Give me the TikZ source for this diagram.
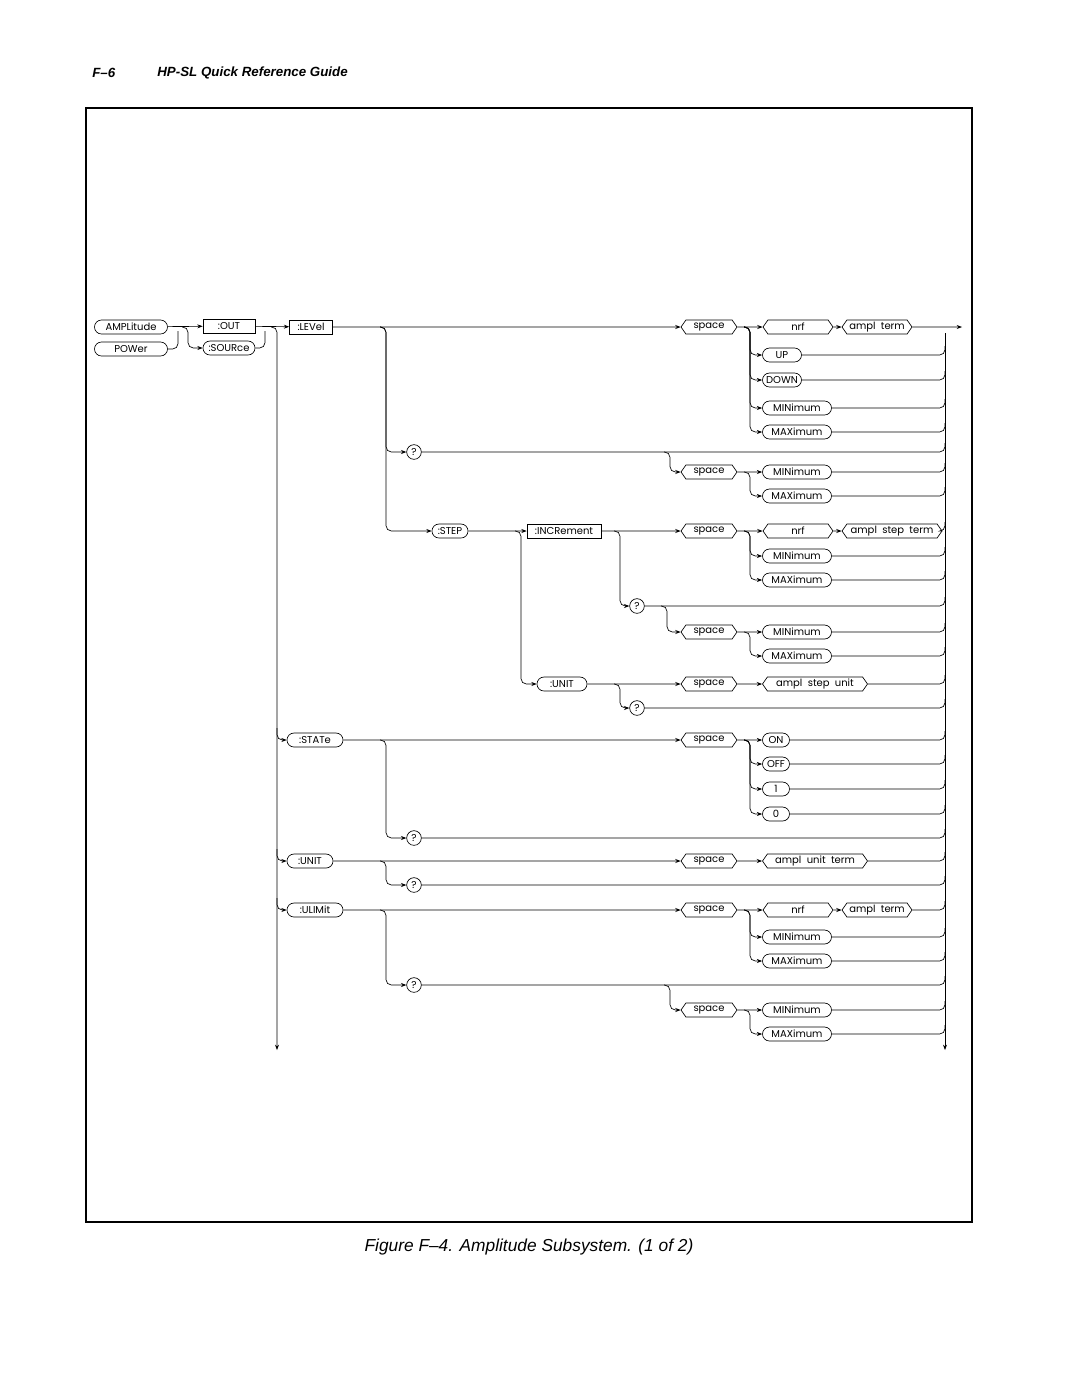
\documentclass[tikz,border=0pt]{standalone}
\usepackage{fontspec}
\setmainfont{Poppins}
\newfontfamily\hdfont{Liberation Sans}
\usetikzlibrary{arrows.meta,shapes.misc,shapes.symbols}
\begin{document}
\begin{tikzpicture}[x=0.75pt,y=-0.75pt,
  every node/.style={font=\fontsize{7.5}{8}\selectfont,inner sep=0pt,minimum height=10.5pt,draw,line width=0.5pt},
  rr/.style={rounded rectangle},
  bx/.style={rectangle},
  sg/.style={signal,signal to=west and east,signal pointer angle=110},
  qc/.style={circle,minimum size=11pt,minimum height=11pt},
  w/.style={minimum width=#1*0.75pt},
  rc/.style={rounded corners=4pt},
  ar/.style={-{Stealth[length=4pt,width=3pt]}},
  line width=0.5pt]
\useasboundingbox (0,0) rectangle (1080,1397);
\draw[line width=1.1pt] (86,108) rectangle (972,1222);
\node[draw=none,font=\hdfont\bfseries\itshape\fontsize{10}{12}\selectfont,anchor=west] (hd1) at (92,73) {F–6};
\node[draw=none,font=\hdfont\bfseries\itshape\fontsize{10}{12}\selectfont,anchor=west] (hd2) at (157,73) {HP-SL Quick Reference Guide};
\node[draw=none,font=\hdfont\itshape\fontsize{13}{15}\selectfont] (cap) at (529,1247) {Figure F–4. Amplitude Subsystem. (1 of 2)};
% nodes
\node[rr,w=73] (amp) at (131,327) {AMPLitude};
\node[rr,w=73] (pow) at (131,349) {POWer};
\node[bx,w=52] (out) at (229,326) {:OUT};
\node[rr,w=52] (src) at (229,348) {:SOURce};
\node[bx,w=43] (lev) at (311,327) {:LEVel};
\node[sg,w=56] (sp1) at (709,327) {space};
\node[sg,w=70] (nrf1) at (798,327) {nrf};
\node[sg,w=70] (at1) at (877,327) {ampl\ \ term};
\node[rr,w=39] (up) at (782,355) {UP};
\node[rr,w=39] (down) at (782,380) {DOWN};
\node[rr,w=69] (min1) at (797,408) {MINimum};
\node[rr,w=69] (max1) at (797,432) {MAXimum};
\node[qc] (q1) at (414,452) {?};
\node[sg,w=56] (sp2) at (709,472) {space};
\node[rr,w=69] (min2) at (797,472) {MINimum};
\node[rr,w=69] (max2) at (797,496) {MAXimum};
\node[rr,w=36] (step) at (450,531) {:STEP};
\node[bx,w=74] (inc) at (564,531) {:INCRement};
\node[sg,w=56] (sp3) at (709,531) {space};
\node[sg,w=70] (nrf3) at (798,531) {nrf};
\node[sg,w=100] (ast3) at (892,531) {ampl\ \ step\ \ term};
\node[rr,w=69] (min3) at (797,556) {MINimum};
\node[rr,w=69] (max3) at (797,580) {MAXimum};
\node[qc] (q2) at (637,606) {?};
\node[sg,w=56] (sp4) at (709,632) {space};
\node[rr,w=69] (min4) at (797,632) {MINimum};
\node[rr,w=69] (max4) at (797,656) {MAXimum};
\node[rr,w=50] (unit1) at (562,684) {:UNIT};
\node[sg,w=56] (sp5) at (709,684) {space};
\node[sg,w=105] (asu) at (815,684) {ampl\ \ step\ \ unit};
\node[qc] (q3) at (637,708) {?};
\node[rr,w=56] (state) at (315,740) {:STATe};
\node[sg,w=56] (sp6) at (709,740) {space};
\node[rr,w=27] (on) at (776,740) {ON};
\node[rr,w=27] (off) at (776,764) {OFF};
\node[rr,w=27] (one) at (776,789) {1};
\node[rr,w=27] (zero) at (776,814) {0};
\node[qc] (q4) at (414,838) {?};
\node[rr,w=46] (unit2) at (310,861) {:UNIT};
\node[sg,w=56] (sp7) at (709,861) {space};
\node[sg,w=105] (aut) at (815,861) {ampl\ \ unit\ \ term};
\node[qc] (q5) at (414,885) {?};
\node[rr,w=56] (ulim) at (315,910) {:ULIMit};
\node[sg,w=56] (sp8) at (709,910) {space};
\node[sg,w=70] (nrf8) at (798,910) {nrf};
\node[sg,w=70] (at8) at (877,910) {ampl\ \ term};
\node[rr,w=69] (min8) at (797,937) {MINimum};
\node[rr,w=69] (max8) at (797,961) {MAXimum};
\node[qc] (q6) at (414,985) {?};
\node[sg,w=56] (sp9) at (709,1010) {space};
\node[rr,w=69] (min9) at (797,1010) {MINimum};
\node[rr,w=69] (max9) at (797,1034) {MAXimum};
\coordinate (lend) at (277,1050);
\coordinate (rend) at (945,1050);
\coordinate (oend) at (962,327);
% left part
\draw[ar] (amp) -- (out);
\draw[rc] (pow.east) -| (178,331);
\draw[rc,ar] (182,327) -- (188,327) |- (src.west);
\draw[ar] (out) -- (lev);
\draw[rc] (src.east) -| (265,331);
\draw[rc,ar] (271,327) -- (277,327) -- (lend);
\draw[rc,ar] (277,728) |- (state.west);
\draw[rc,ar] (277,849) |- (unit2.west);
\draw[rc,ar] (277,898) |- (ulim.west);
% right trunk
\draw[ar] (at1) -- (oend);
\draw[ar] (945,333) -- (rend);
\newcommand{\tr}[2]{\draw[rc] (#1.east) -| (945,#2-9);}
\newcommand{\brr}[4]{\draw[rc,ar] (#1-6,#2) -- (#1,#2) |- (#3.west);}
% LEVel
\draw[ar] (lev) -- (sp1);
\draw[ar] (sp1) -- (nrf1); \draw[ar] (nrf1) -- (at1);
\brr{750}{327}{up}{} \brr{750}{327}{down}{} \brr{750}{327}{min1}{} \brr{750}{327}{max1}{}
\tr{up}{355} \tr{down}{380} \tr{min1}{408} \tr{max1}{432}
\brr{386}{327}{q1}{} \brr{386}{327}{step}{}
\tr{q1}{452}
\brr{670}{452}{sp2}{}
\draw[ar] (sp2) -- (min2); \brr{750}{472}{max2}{}
\tr{min2}{472} \tr{max2}{496}
% STEP
\draw[ar] (step) -- (inc);
\brr{521}{531}{unit1}{}
\draw[ar] (inc) -- (sp3); \draw[ar] (sp3) -- (nrf3); \draw[ar] (nrf3) -- (ast3);
\tr{ast3}{531}
\brr{750}{531}{min3}{} \brr{750}{531}{max3}{}
\tr{min3}{556} \tr{max3}{580}
\brr{620}{531}{q2}{}
\tr{q2}{606}
\brr{667}{606}{sp4}{}
\draw[ar] (sp4) -- (min4); \brr{750}{632}{max4}{}
\tr{min4}{632} \tr{max4}{656}
\draw[ar] (unit1) -- (sp5); \draw[ar] (sp5) -- (asu); \tr{asu}{684}
\brr{620}{684}{q3}{} \tr{q3}{708}
% STATe
\draw[ar] (state) -- (sp6); \draw[ar] (sp6) -- (on);
\brr{750}{740}{off}{} \brr{750}{740}{one}{} \brr{750}{740}{zero}{}
\tr{on}{740} \tr{off}{764} \tr{one}{789} \tr{zero}{814}
\brr{386}{740}{q4}{} \tr{q4}{838}
% UNIT
\draw[ar] (unit2) -- (sp7); \draw[ar] (sp7) -- (aut); \tr{aut}{861}
\brr{386}{861}{q5}{} \tr{q5}{885}
% ULIMit
\draw[ar] (ulim) -- (sp8); \draw[ar] (sp8) -- (nrf8); \draw[ar] (nrf8) -- (at8); \tr{at8}{910}
\brr{750}{910}{min8}{} \brr{750}{910}{max8}{}
\tr{min8}{937} \tr{max8}{961}
\brr{386}{910}{q6}{} \tr{q6}{985}
\brr{670}{985}{sp9}{}
\draw[ar] (sp9) -- (min9); \brr{750}{1010}{max9}{}
\tr{min9}{1010} \tr{max9}{1034}
\end{tikzpicture}
\end{document}
